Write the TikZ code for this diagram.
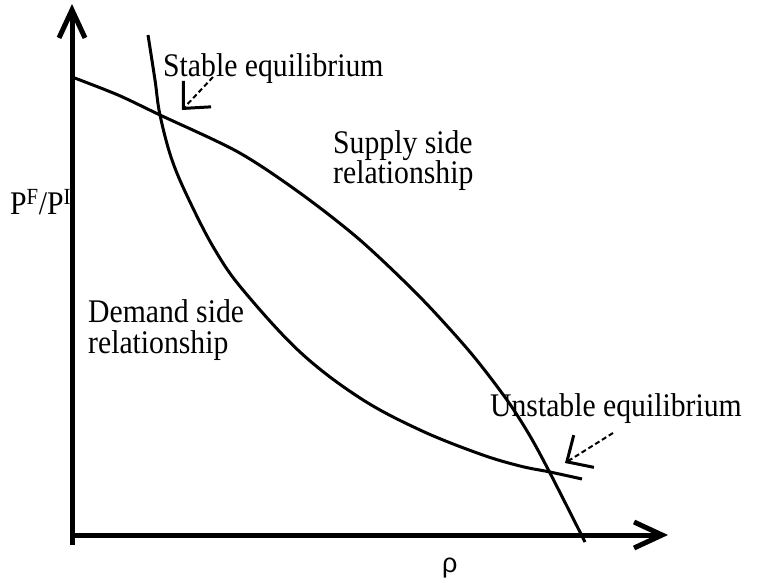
\documentclass[tikz,border=0pt]{standalone}
\usepackage{fontspec}
\setmainfont[FakeStretch=0.9]{Liberation Serif}
\newfontfamily\rhofont{Liberation Sans}
\usetikzlibrary{arrows.meta}
\begin{document}
\begin{tikzpicture}[x=1pt,y=-1pt,
  axis/.style={line width=5pt,-{Straight Barb[length=28pt,width=26pt,line width=5pt]}},
  curve/.style={line width=3pt,line join=round},
  pointer/.style={line width=2pt,dashed,dash pattern=on 5pt off 3pt,-{Straight Barb[length=20pt,width=38pt,line width=3pt]}},
  lbl/.style={font=\fontsize{33}{30}\selectfont,inner sep=0pt,anchor=base west},
  second/.style={lbl,text height=23pt}]
\useasboundingbox (0,0) rectangle (766,583);
\coordinate (ytop) at (72,4);
\coordinate (xend) at (668,535);
\draw[axis] (72,545) -- (ytop);
\draw[axis] (70,535) -- (xend);
% supply
\draw[curve] plot[smooth,tension=0.5] coordinates {(72,77) (118,95) (160,115) (238,152) (300,193) (360,240) (420,297) (470,352) (507,400) (530,436) (550,473) (585,542)};
% demand
\draw[curve] plot[smooth,tension=0.6] coordinates {(148,35) (155,80) (160,115) (172,160) (190,202) (215,250) (243,290) (300,352) (360,398) (420,430) (480,454) (520,466) (550,472) (582,479)};
% labels
\node[lbl] (stab) at (163,77) {Stable equilibrium};
\node[lbl] (unst) at (490,416) {Unstable equilibrium};
\node[lbl] (sup1) at (333,154) {Supply side};
\node[second] (sup2) at (333,184) {relationship};
\node[lbl,text depth=0pt] (dem1) at (88,322) {Demand side};
\node[second] (dem2) at (88,353) {relationship};
\node[lbl] (pf) at (10,214) {P\textsuperscript{F}/P\textsuperscript{I}};
\node[lbl,font=\rhofont\fontsize{27}{27}\selectfont] (rho) at (442,572) {ρ};
% pointers
\coordinate (s1) at (213,77);
\coordinate (s2) at (182,110);
\coordinate (u1) at (613,433);
\coordinate (u2) at (565,463);
\draw[pointer] (s1) -- (s2);
\draw[pointer] (u1) -- (u2);
\end{tikzpicture}
\end{document}
